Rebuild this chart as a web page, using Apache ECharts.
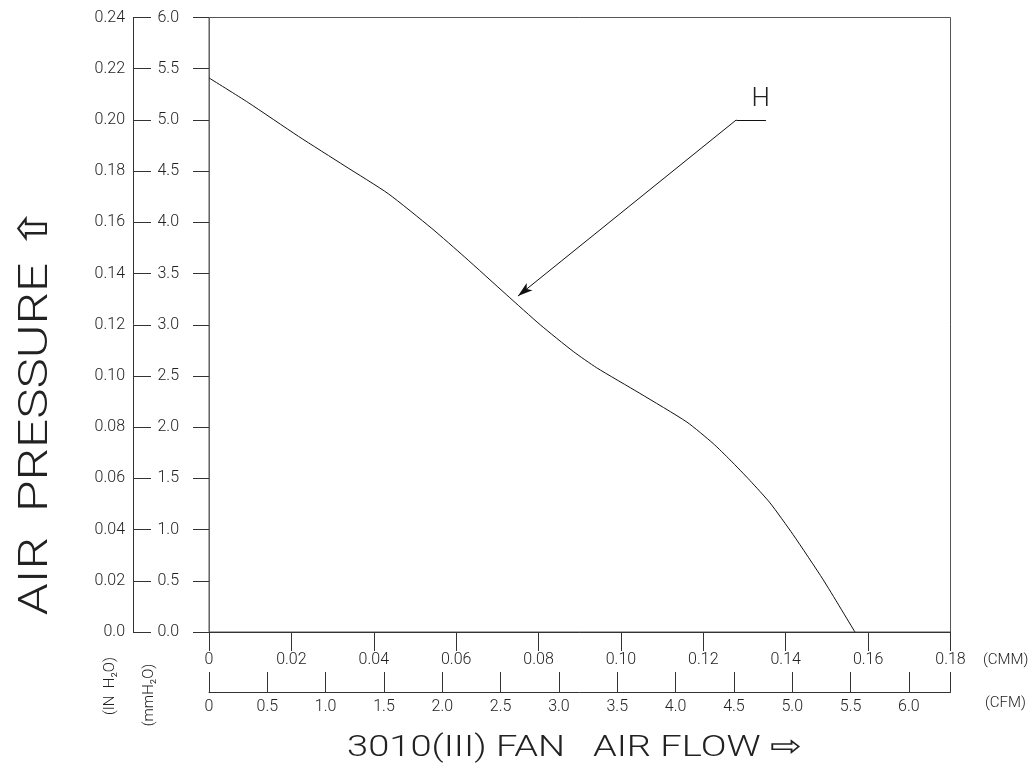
<!DOCTYPE html>
<html><head><meta charset="utf-8">
<script src="https://cdn.jsdelivr.net/npm/echarts@6/dist/echarts.min.js"></script>
<style>html,body{margin:0;padding:0;background:#fff}#c{width:1033px;height:765px}</style>
</head><body><div id="c"></div>
<script>
// Curve H: air flow (CMM) vs static pressure (mmH2O)
const flowCMM     = [0, 0.0095, 0.0217, 0.0330, 0.0435, 0.0541, 0.0621, 0.0723, 0.0804, 0.0884, 0.0941, 0.1046, 0.1160, 0.1224, 0.1265, 0.1313, 0.1362, 0.1418, 0.1491, 0.1568];
const pressureMM  = [5.41, 5.17, 4.84, 4.55, 4.28, 3.94, 3.66, 3.29, 3.00, 2.74, 2.58, 2.33, 2.05, 1.84, 1.68, 1.48, 1.26, 0.95, 0.51, 0.00];
// Tick labels
const cmmLabels = ['0','0.02','0.04','0.06','0.08','0.10','0.12','0.14','0.16','0.18'];
const cfmLabels = ['0','0.5','1.0','1.5','2.0','2.5','3.0','3.5','4.0','4.5','5.0','5.5','6.0'];
const mmLabels  = ['0.0','0.5','1.0','1.5','2.0','2.5','3.0','3.5','4.0','4.5','5.0','5.5','6.0'];
const inLabels  = ['0.0','0.02','0.04','0.06','0.08','0.10','0.12','0.14','0.16','0.18','0.20','0.22','0.24'];
// Annotation "H": leader line start and arrow tip (CMM, mmH2O)
const hLeaderStart = [0.128, 5.0];
const hLeaderEnd   = [0.1352, 5.0];
const hArrowTip    = [0.075, 3.28];
const CFM_MAX = 0.18 * 35.315;

const FONT = 'Roboto, "DejaVu Sans", sans-serif';
const TXT = '#222';
const LINE = '#333';
const chart = echarts.init(document.getElementById('c'), null, {renderer:'canvas'});
const lbl = (arr, step) => v => { const i = Math.round(v / step); return (Math.abs(i*step - v) < step*0.01 && arr[i] !== undefined) ? arr[i] : ''; };
const tickFont = {color:TXT, fontFamily:FONT, fontSize:16, fontWeight:300};

chart.setOption({
  animation: false,
  backgroundColor: '#fff',
  grid: { left: 209, right: 82.5, top: 17.5, bottom: 133, show: true, borderColor: '#555', borderWidth: 1, backgroundColor: 'transparent' },
  xAxis: [
    { type:'value', min:0, max:0.18, interval:0.02, position:'bottom',
      axisLine:{show:true, onZero:false, lineStyle:{color:LINE}},
      axisTick:{show:true, inside:false, length:19, lineStyle:{color:LINE}},
      axisLabel:Object.assign({margin:20, formatter: lbl(cmmLabels, 0.02)}, tickFont),
      splitLine:{show:false} },
    { type:'value', min:0, max:CFM_MAX, interval:0.5, position:'bottom', offset:60,
      axisLine:{show:true, onZero:false, lineStyle:{color:LINE}},
      axisTick:{show:true, inside:true, length:20, lineStyle:{color:LINE}},
      axisLabel:Object.assign({margin:7, formatter: lbl(cfmLabels, 0.5)}, tickFont),
      splitLine:{show:false} }
  ],
  yAxis: [
    { type:'value', min:0, max:6, interval:0.5, position:'left',
      axisLine:{show:true, onZero:false, lineStyle:{color:'#666'}},
      axisTick:{show:true, inside:false, length:16, lineStyle:{color:LINE}},
      axisLabel:Object.assign({margin:30, formatter: lbl(mmLabels, 0.5)}, tickFont),
      splitLine:{show:false} },
    { type:'value', min:0, max:0.24, interval:0.02, position:'left', offset:76,
      axisLine:{show:true, onZero:false, lineStyle:{color:LINE}},
      axisTick:{show:true, inside:true, length:18, lineStyle:{color:LINE}},
      axisLabel:Object.assign({margin:8, formatter: lbl(inLabels, 0.02)}, tickFont),
      splitLine:{show:false} }
  ],
  series: [{
    type:'line', xAxisIndex:0, yAxisIndex:0,
    data: flowCMM.map((x,i)=>[x, pressureMM[i]]),
    showSymbol:false, symbol:'none', smooth:0.2,
    lineStyle:{color:'#111', width:1},
    markLine: {
      silent:true, animation:false,
      symbol:['none','arrow'], symbolSize:[7,15],
      lineStyle:{color:'#111', width:1, type:'solid'},
      label:{show:false},
      data: [
        [{coord:hLeaderStart, symbol:'none'}, {coord:hArrowTip, symbol:'arrow'}],
        [{coord:hLeaderStart, symbol:'none'}, {coord:hLeaderEnd, symbol:'none',
          label:{show:true, formatter:'H', position:'insideEndTop', distance:[-4,7], color:TXT, fontFamily:FONT, fontWeight:300, fontSize:26}}]
      ]
    }
  }],
  graphic: [
    { type:'text', x:37, y:411, rotation:Math.PI/2, scaleX:1.28, silent:true,
      style:{text:'AIR  PRESSURE ⇧', font:'300 40px ' + FONT, fill:TXT, align:'center', verticalAlign:'middle'} },
    { type:'text', x:347, y:748, scaleX:1.27, silent:true,
      style:{text:'3010(III) FAN   AIR FLOW ⇨', font:'300 30px ' + FONT, fill:TXT, align:'left', verticalAlign:'middle'} },
    { type:'text', x:983, y:660, silent:true,
      style:{text:'(CMM)', font:'300 15px ' + FONT, fill:TXT, align:'left', verticalAlign:'middle'} },
    { type:'text', x:985, y:703, silent:true,
      style:{text:'(CFM)', font:'300 15px ' + FONT, fill:TXT, align:'left', verticalAlign:'middle'} },
    { type:'text', x:110, y:686, rotation:Math.PI/2, silent:true,
      style:{text:'(IN  H₂O)', font:'300 15px ' + FONT, fill:TXT, align:'center', verticalAlign:'middle'} },
    { type:'text', x:149, y:695, rotation:Math.PI/2, silent:true,
      style:{text:'(mmH₂O)', font:'300 15px ' + FONT, fill:TXT, align:'center', verticalAlign:'middle'} }
  ]
});
</script>
</body></html>
